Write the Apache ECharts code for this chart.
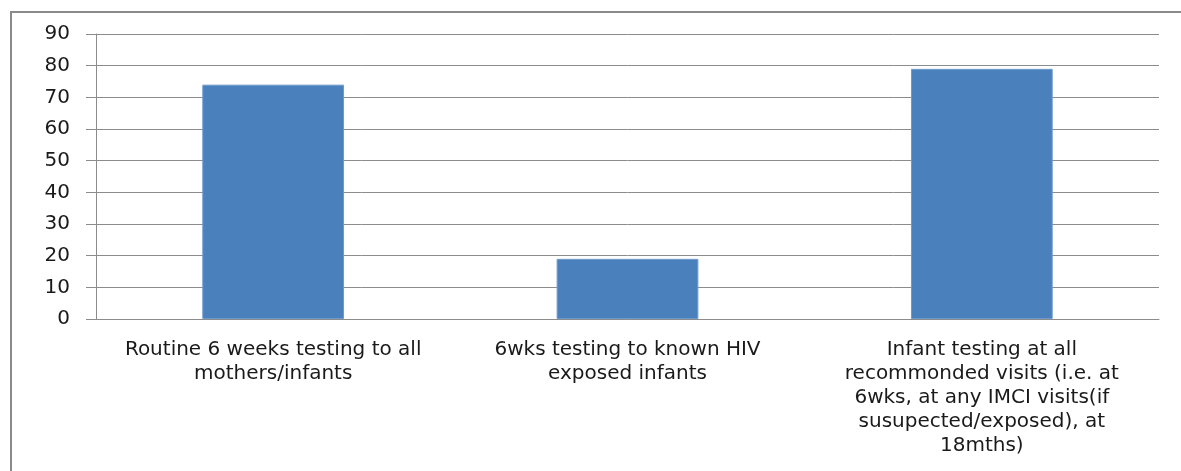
<!DOCTYPE html>
<html>
<head>
<meta charset="utf-8">
<script src="https://cdn.jsdelivr.net/npm/echarts@6/dist/echarts.min.js"></script>
<style>
html,body{margin:0;padding:0;background:#fff;}
#frame{position:absolute;left:10px;top:11px;width:1175px;height:470px;border:2px solid #8a8a8a;box-sizing:border-box;}
#chart{position:absolute;left:0;top:0;width:1181px;height:471px;}
</style>
</head>
<body>
<div id="frame"></div>
<div id="chart"></div>
<script>
var categories = [
  "Routine 6 weeks testing to all\nmothers/infants",
  "6wks testing to known HIV\nexposed infants",
  "Infant testing at all\nrecommonded visits (i.e. at\n6wks, at any IMCI visits(if\nsusupected/exposed), at\n18mths)"
];
var values = [74, 19, 79];
var yTicks = [0, 10, 20, 30, 40, 50, 60, 70, 80, 90];

var chart = echarts.init(document.getElementById('chart'), null, {renderer: 'canvas'});
chart.setOption({
  animation: false,
  grid: {left: 96, right: 22, top: 34, bottom: 152, containLabel: false},
  xAxis: {
    type: 'category',
    data: categories,
    axisLine: {lineStyle: {color: '#8c8c8c', width: 1}},
    axisTick: {show: false},
    axisLabel: {
      interval: 0,
      margin: 19,
      color: '#1a1a1a',
      fontFamily: 'DejaVu Sans',
      fontSize: 20,
      lineHeight: 24,
      align: 'center'
    }
  },
  yAxis: {
    type: 'value',
    min: yTicks[0],
    max: yTicks[yTicks.length - 1],
    interval: 10,
    axisLine: {show: true, lineStyle: {color: '#8c8c8c', width: 1}},
    axisTick: {show: true, inside: false, length: 10, lineStyle: {color: '#8c8c8c'}},
    splitLine: {show: true, lineStyle: {color: '#8c8c8c', width: 1}},
    axisLabel: {
      color: '#1a1a1a',
      fontFamily: 'DejaVu Sans',
      fontSize: 20,
      margin: 26
    }
  },
  series: [{
    type: 'bar',
    data: values,
    barWidth: '40%',
    itemStyle: {color: '#4a81bd', borderColor: '#6d99cc', borderWidth: 1}
  }]
});
</script>
</body>
</html>
